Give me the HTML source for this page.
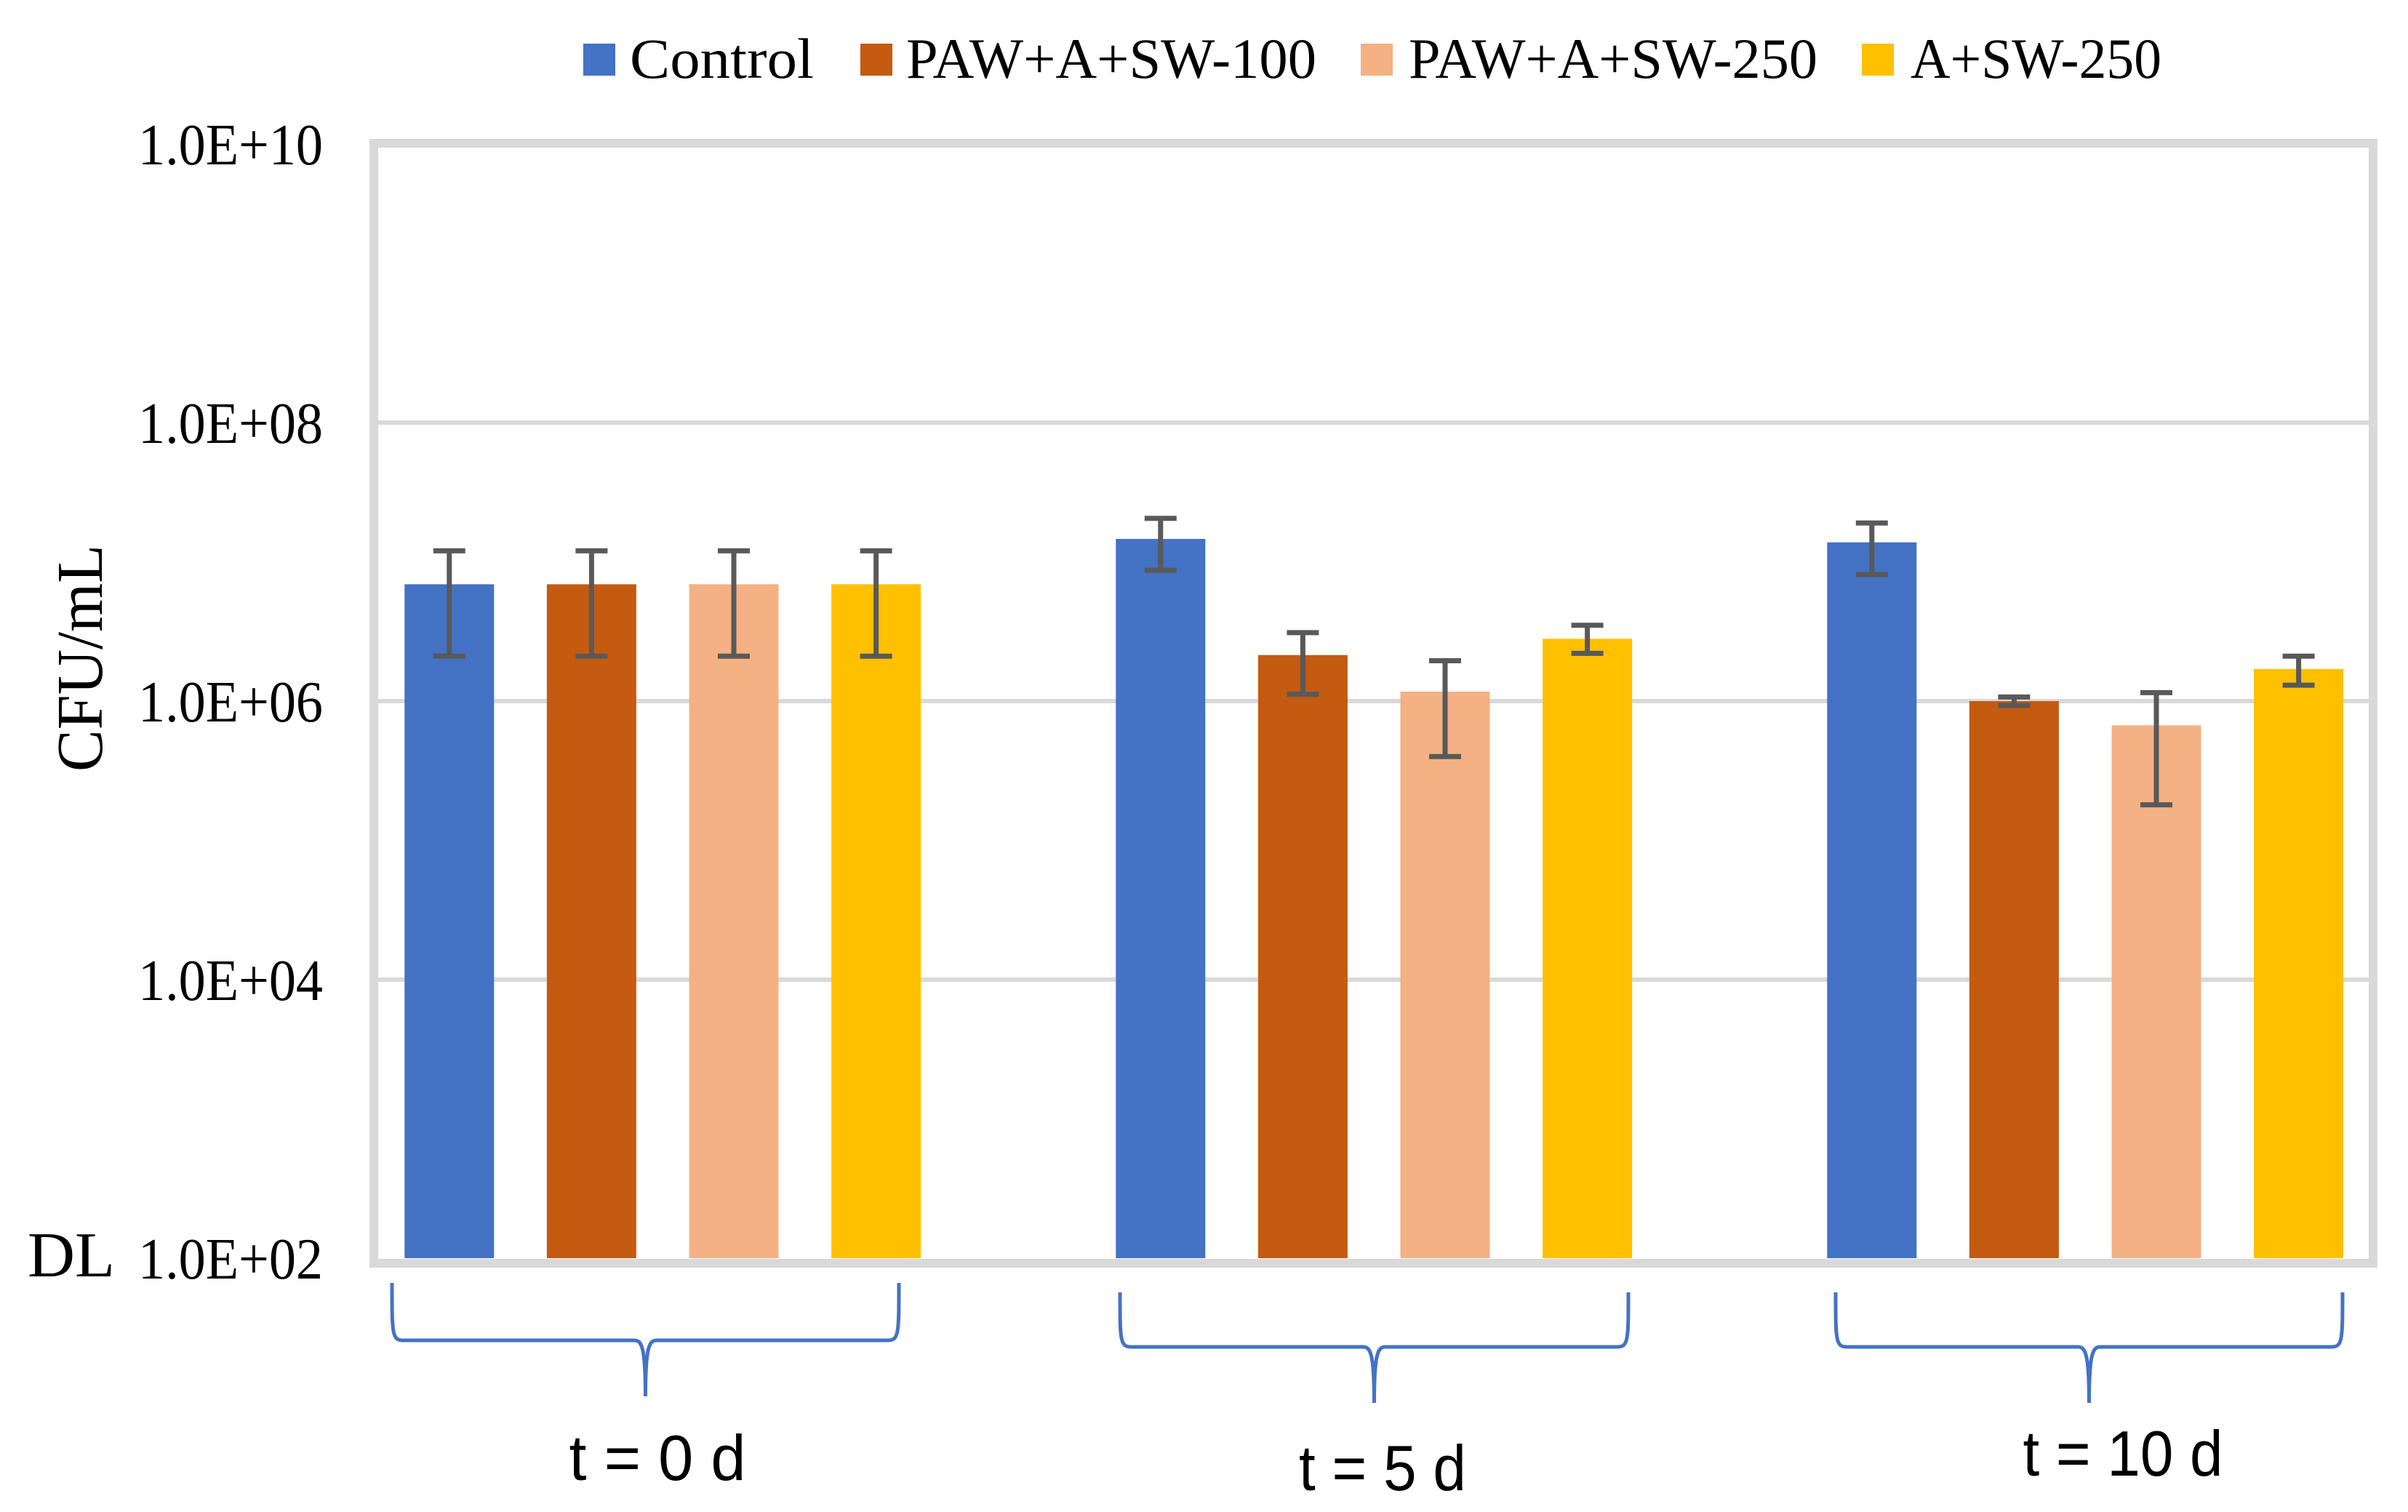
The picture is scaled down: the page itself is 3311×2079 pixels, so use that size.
<!DOCTYPE html>
<html><head><meta charset="utf-8"><style>html,body{margin:0;padding:0;background:#fff}svg{display:block}</style></head>
<body>
<svg id="chart" width="3311" height="2079" viewBox="0 0 3311 2079" xmlns="http://www.w3.org/2000/svg">
<rect x="0" y="0" width="3311" height="2079" fill="#fff"/>
<g id="grid"></g>
<rect x="514" y="197" width="2749" height="1540" fill="none" stroke="#d9d9d9" stroke-width="12"/>
<g id="bars"></g>
<g id="errs"></g>
<g id="yticks" font-family="'Liberation Serif', serif" font-size="80" fill="#000"></g>
<text x="38" y="1755" font-family="'Liberation Serif', serif" font-size="88" textLength="120" lengthAdjust="spacingAndGlyphs">DL</text>
<text transform="translate(140,905) rotate(-90)" text-anchor="middle" font-family="'Liberation Serif', serif" font-size="90" textLength="312" lengthAdjust="spacingAndGlyphs">CFU/mL</text>
<g id="legend" font-family="'Liberation Serif', serif" font-size="78"></g>
<g id="braces" fill="none" stroke="#4472c4" stroke-width="5"></g>
<g id="xlabels" font-family="'Liberation Sans', sans-serif" font-size="88" text-anchor="middle"></g>
</svg>
<script>
const categories = ["t = 0 d", "t = 5 d", "t = 10 d"];
const seriesNames = ["Control", "PAW+A+SW-100", "PAW+A+SW-250", "A+SW-250"];
const colors = ["#4472c4", "#c55a11", "#f4b183", "#ffc000"];
const control = [6.9e6, 1.46e7, 1.38e7];
const paw100 = [6.9e6, 2.14e6, 1.0e6];
const paw250 = [6.9e6, 1.17e6, 6.7e5];
const asw250 = [6.9e6, 2.8e6, 1.7e6];
const controlErrHi = [1.2e7, 2.05e7, 1.9e7];
const controlErrLo = [2.1e6, 8.7e6, 8.1e6];
const paw100ErrHi = [1.2e7, 3.1e6, 1.07e6];
const paw100ErrLo = [2.1e6, 1.12e6, 0.93e6];
const paw250ErrHi = [1.2e7, 1.95e6, 1.15e6];
const paw250ErrLo = [2.1e6, 4.0e5, 1.8e5];
const asw250ErrHi = [1.2e7, 3.5e6, 2.1e6];
const asw250ErrLo = [2.1e6, 2.2e6, 1.3e6];
const tickValues = [1e2, 1e4, 1e6, 1e8, 1e10];
const tickLabels = ["1.0E+02", "1.0E+04", "1.0E+06", "1.0E+08", "1.0E+10"];

const NS = "http://www.w3.org/2000/svg";
const values = [control, paw100, paw250, asw250];
const errHi = [controlErrHi, paw100ErrHi, paw250ErrHi, asw250ErrHi];
const errLo = [controlErrLo, paw100ErrLo, paw250ErrLo, asw250ErrLo];
const X0 = 520, SLOT = 195.6, BW = 123;
const Y_BASE = 1730, DEC = 191.5;
function yScale(v) { return Y_BASE - (Math.log10(v) - 2) * DEC; }
function xSlot(ci, si) { return X0 + (ci * 5 + si) * SLOT + (SLOT - BW) / 2; }
function mk(tag, attrs, parent) { const e = document.createElementNS(NS, tag); for (const k in attrs) e.setAttribute(k, attrs[k]); parent.appendChild(e); return e; }

const grid = document.getElementById('grid');
tickValues.forEach((v, i) => {
  if (i > 0 && i < tickValues.length - 1) {
    const l = mk('line', {x1: 520, x2: 3257, y1: yScale(v), y2: yScale(v), stroke: '#d9d9d9', 'stroke-width': 6}, grid);
    
    
  }
  const t = mk('text', {x: 444, y: yScale(v) + 28, 'text-anchor': 'end', textLength: 254, lengthAdjust: 'spacingAndGlyphs'}, document.getElementById('yticks'));
  t.textContent = tickLabels[i];
  
  
});

const bars = document.getElementById('bars'), errs = document.getElementById('errs');
values.forEach((ser, si) => {
  ser.forEach((v, ci) => {
    const x = xSlot(ci, si), y = yScale(v);
    const r = mk('rect', {x: x, y: y, width: BW, height: Y_BASE - y, fill: colors[si]}, bars);
    
    
    const cx = x + BW / 2, yh = yScale(errHi[si][ci]), yl = yScale(errLo[si][ci]);
    const g = mk('g', {stroke: '#595959', 'stroke-width': 7}, errs);
    
    
    mk('line', {x1: cx, x2: cx, y1: yh, y2: yl}, g);
    mk('line', {x1: cx - 22, x2: cx + 22, y1: yh, y2: yh}, g);
    mk('line', {x1: cx - 22, x2: cx + 22, y1: yl, y2: yl}, g);
  });
});

const legend = document.getElementById('legend');
const legSq = [802, 1183, 1871, 2560], legTx = [866, 1246, 1937, 2627], legW = [253, 564, 562, 345];
seriesNames.forEach((n, i) => {
  const g = mk('g', {}, legend);
  
  
  mk('rect', {x: legSq[i], y: 60, width: 44, height: 44, fill: colors[i]}, g);
  const t = mk('text', {x: legTx[i], y: 107, textLength: legW[i], lengthAdjust: 'spacingAndGlyphs'}, g);
  t.textContent = n;
});

const braces = document.getElementById('braces');
const br = [[539, 1236, 1764, 1843, 1920], [1540, 2239, 1777, 1852, 1929], [2524, 3221, 1777, 1852, 1929]];
br.forEach(b => {
  const [a, c, t, h, tip] = b, m = (a + c) / 2;
  const p = mk('path', {d: `M${a},${t} C${a},${h - 10} ${a},${h} ${a + 15},${h} L${m - 15},${h} C${m - 5},${h} ${m},${h + 10} ${m},${tip} C${m},${h + 10} ${m + 5},${h} ${m + 15},${h} L${c - 15},${h} C${c},${h} ${c},${h - 10} ${c},${t}`}, braces);
  
  
});
const xl = document.getElementById('xlabels');
const lx = [904, 1901, 2919], ly = [2035, 2049, 2029], lw = [243, 230, 275];
categories.forEach((c, i) => {
  const t = mk('text', {x: lx[i], y: ly[i], textLength: lw[i], lengthAdjust: 'spacingAndGlyphs'}, xl);
  t.textContent = c;
  
  
});
</script>
</body></html>
